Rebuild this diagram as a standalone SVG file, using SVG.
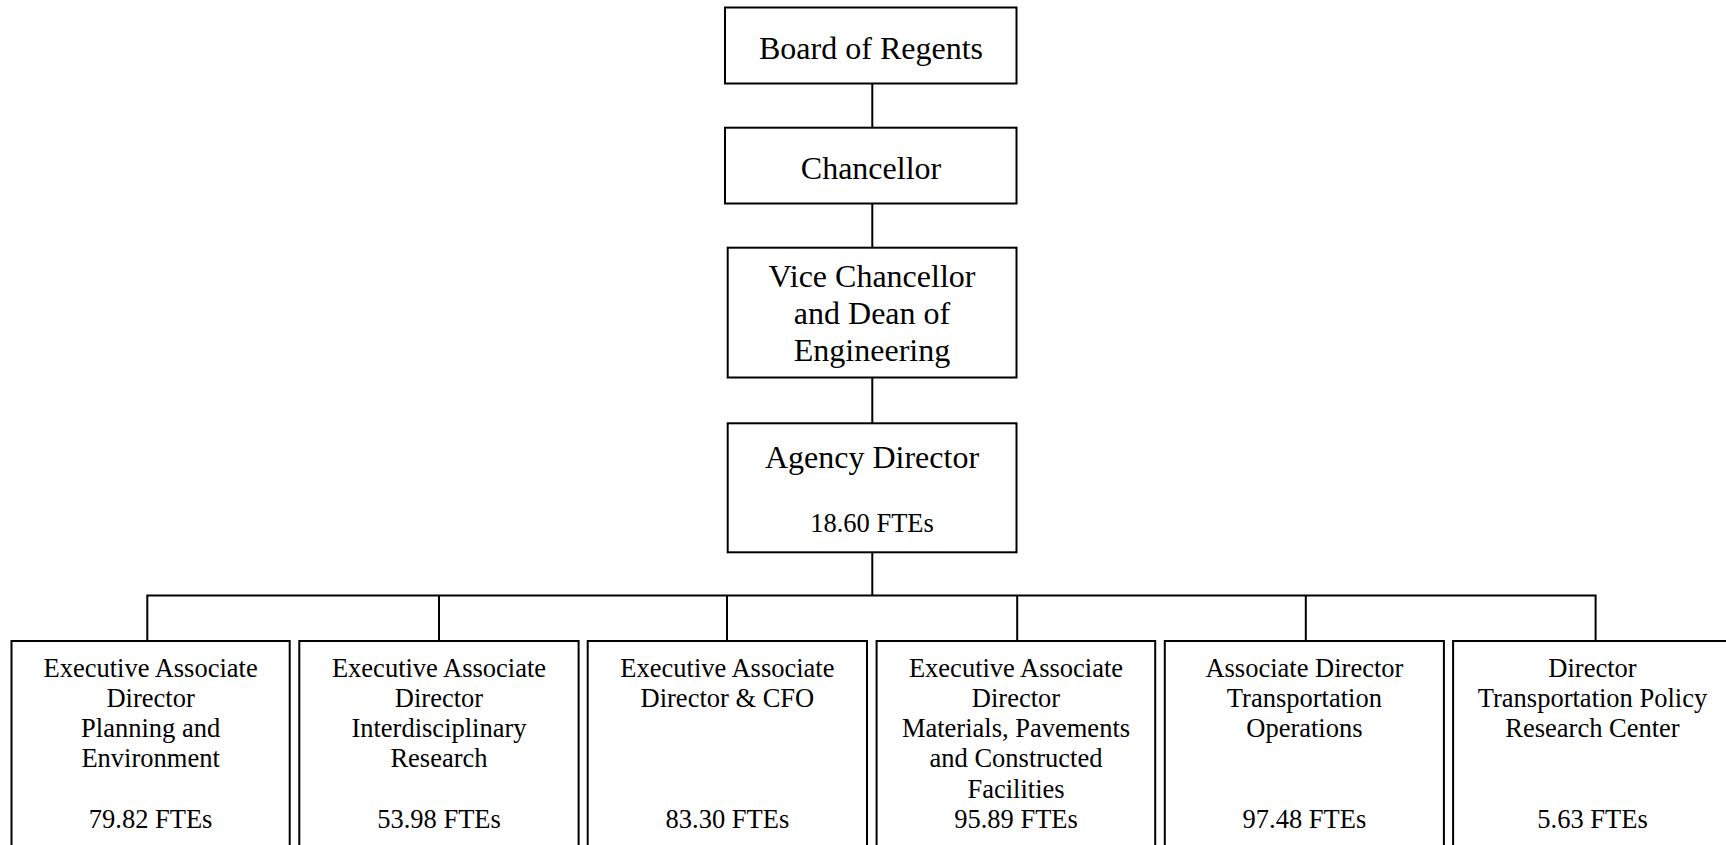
<svg xmlns="http://www.w3.org/2000/svg" width="1726" height="845" viewBox="0 0 1726 845">
<style>
.box{fill:#fff;stroke:#000;stroke-width:2}
.t{font-family:"Liberation Serif","Times New Roman",serif;fill:#000;text-anchor:middle}
.big{font-size:32px}
.sm{font-size:26.5px}
.con{stroke:#000;stroke-width:2;fill:none}
</style>
<rect width="1726" height="845" fill="#fff"/>
<g id="connectors">
<path class="con" d="M872.3 83.3V127.7M872.3 203.3V247.7M872.3 377.3V423.3M872.3 552.3V595.5"/>
<path class="con" d="M147.3 641V595.5H1595.6V641M439 595.5V641M727 595.5V641M1017.2 595.5V641M1305.8 595.5V641"/>
</g>
<g id="board">
<rect class="box" x="725" y="7.5" width="291.5" height="76"/>
<text class="t big" x="871" y="59.3">Board of Regents</text>
</g>
<g id="chancellor">
<rect class="box" x="725" y="127.7" width="291.5" height="75.8"/>
<text class="t big" x="871" y="179.3">Chancellor</text>
</g>
<g id="vice">
<rect class="box" x="727.7" y="247.7" width="288.8" height="129.8"/>
<text class="t big" x="872" y="286.7">Vice Chancellor</text>
<text class="t big" x="872" y="324">and Dean of</text>
<text class="t big" x="872" y="361">Engineering</text>
</g>
<g id="agency">
<rect class="box" x="727.7" y="423.3" width="288.8" height="129"/>
<text class="t big" x="872" y="467.7">Agency Director</text>
<text class="t sm" x="872" y="532.3">18.60 FTEs</text>
</g>
<g id="ead-planning">
<rect class="box" x="11.5" y="641" width="278.2" height="230"/>
<text class="t sm" x="150.6" y="676.7">Executive Associate</text>
<text class="t sm" x="150.6" y="706.9">Director</text>
<text class="t sm" x="150.6" y="737.1">Planning and</text>
<text class="t sm" x="150.6" y="767.4">Environment</text>
<text class="t sm" x="150.6" y="828.3">79.82 FTEs</text>
</g>
<g id="ead-research">
<rect class="box" x="299.3" y="641" width="279.3" height="230"/>
<text class="t sm" x="439" y="676.7">Executive Associate</text>
<text class="t sm" x="439" y="706.9">Director</text>
<text class="t sm" x="439" y="737.1">Interdisciplinary</text>
<text class="t sm" x="439" y="767.4">Research</text>
<text class="t sm" x="439" y="828.3">53.98 FTEs</text>
</g>
<g id="ead-cfo">
<rect class="box" x="587.7" y="641" width="279.3" height="230"/>
<text class="t sm" x="727.4" y="676.7">Executive Associate</text>
<text class="t sm" x="727.4" y="706.9">Director &amp; CFO</text>
<text class="t sm" x="727.4" y="828.3">83.30 FTEs</text>
</g>
<g id="ead-materials">
<rect class="box" x="876.6" y="641" width="278.6" height="230"/>
<text class="t sm" x="1016" y="676.7">Executive Associate</text>
<text class="t sm" x="1016" y="706.9">Director</text>
<text class="t sm" x="1016" y="737.1">Materials, Pavements</text>
<text class="t sm" x="1016" y="767.4">and Constructed</text>
<text class="t sm" x="1016" y="797.7">Facilities</text>
<text class="t sm" x="1016" y="828.3">95.89 FTEs</text>
</g>
<g id="ad-operations">
<rect class="box" x="1164.8" y="641" width="279.1" height="230"/>
<text class="t sm" x="1304.4" y="676.7">Associate Director</text>
<text class="t sm" x="1304.4" y="706.9">Transportation</text>
<text class="t sm" x="1304.4" y="737.1">Operations</text>
<text class="t sm" x="1304.4" y="828.3">97.48 FTEs</text>
</g>
<g id="d-policy">
<rect class="box" x="1453.1" y="641" width="279" height="230"/>
<text class="t sm" x="1592.5" y="676.7">Director</text>
<text class="t sm" x="1592.5" y="706.9">Transportation Policy</text>
<text class="t sm" x="1592.5" y="737.1">Research Center</text>
<text class="t sm" x="1592.5" y="828.3">5.63 FTEs</text>
</g>
</svg>
